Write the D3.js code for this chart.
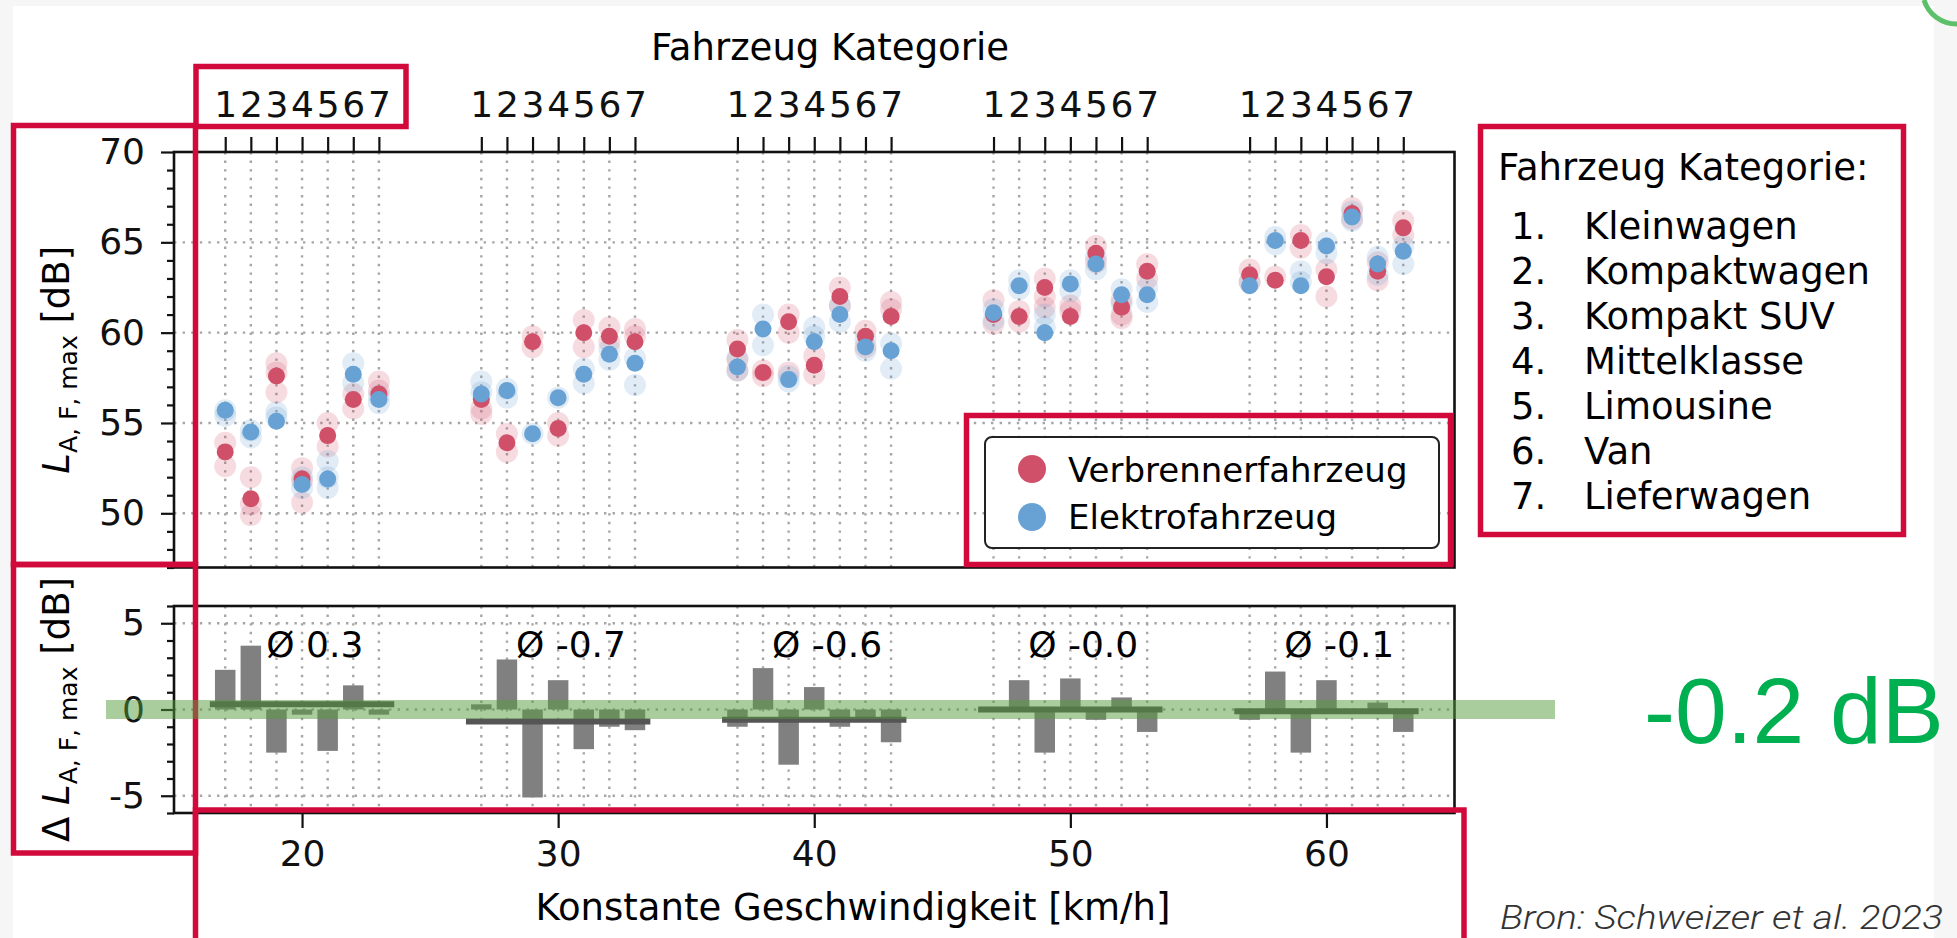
<!DOCTYPE html>
<html>
<head>
<meta charset="utf-8">
<script src="https://cdn.jsdelivr.net/npm/d3@7"></script>
<style>
  body { margin: 0; background: #f6f6f6; }
  svg { display: block; }
</style>
</head>
<body>
<svg id="chart" width="1957" height="938"></svg>
<script>
// speeds (km/h) and vehicle categories
const speeds = [20, 30, 40, 50, 60];
const catNumbers = ["1", "2", "3", "4", "5", "6", "7"];
const catNames = ["Kleinwagen", "Kompaktwagen", "Kompakt SUV", "Mittelklasse", "Limousine", "Van", "Lieferwagen"];

// mean L_AFmax per speed group (rows) and category (columns)
const verbrenner = [
  [53.4, 50.8, 57.6, 51.9, 54.3, 56.3, 56.6],
  [56.3, 53.9, 59.5, 54.7, 60.0, 59.8, 59.5],
  [59.1, 57.8, 60.6, 58.2, 62.0, 59.8, 60.9],
  [61.0, 60.9, 62.5, 60.9, 64.4, 61.4, 63.4],
  [63.2, 62.9, 65.1, 63.1, 66.6, 63.4, 65.8]
];
const elektro = [
  [55.7, 54.5, 55.1, 51.6, 51.9, 57.7, 56.3],
  [56.6, 56.8, 54.4, 56.4, 57.7, 58.8, 58.3],
  [58.1, 60.2, 57.4, 59.5, 61.0, 59.2, 59.0],
  [61.1, 62.6, 60.0, 62.7, 63.8, 62.1, 62.1],
  [62.6, 65.1, 62.6, 64.8, 66.4, 63.8, 64.5]
];

// single vehicle measurements (faint markers)
const verbrennerRuns = [
  [[53.9, 52.6], [52.0, 49.9, 50.5], [58.3, 56.7, 57.8], [52.5, 50.6, 51.8], [55.0, 53.7], [55.8, 56.6], [57.3, 56.8]],
  [[55.8, 55.5], [54.4, 53.4], [59.8, 59.2], [55.0, 54.3], [60.7, 59.2], [60.3, 59.5], [60.2, 59.8]],
  [[59.6, 57.9, 58.5], [57.9, 57.6], [61.0, 60.0, 57.8], [57.7, 58.7], [62.5, 61.5], [60.1, 59.2], [61.7, 61.3]],
  [[61.8, 60.5], [61.2, 60.6], [63.0, 62.0, 61.4], [61.2, 61.5], [64.8, 63.9], [61.8, 61.0, 60.8], [63.8, 63.0]],
  [[63.5, 62.8], [63.1], [65.4, 64.7], [63.5, 62.0], [66.9, 66.3], [63.9, 62.9], [66.2, 65.4]]
];
const elektroRuns = [
  [[55.7, 55.4], [54.6, 54.2], [55.6, 55.3], [51.4, 52.0], [52.9, 51.4, 52.0], [58.3, 57.2], [56.1, 56.5]],
  [[57.3, 56.7], [56.4, 56.9], [54.4], [56.4], [57.2, 58.0], [58.5, 59.1], [57.1, 58.6]],
  [[58.6, 57.9], [61.0, 59.3], [57.3, 57.6], [59.8, 60.3], [61.5, 60.6], [59.0, 59.6], [58.0, 59.4]],
  [[61.3, 60.7], [62.9, 62.4], [60.3, 61.0], [62.9, 62.3], [64.2, 63.5], [62.4, 61.6], [62.5, 61.7]],
  [[62.8], [65.3, 64.9], [62.8, 63.4], [65.0, 64.4], [66.2, 66.7], [63.2, 64.2], [64.8, 63.8]]
];

// group averages of the difference (Elektro - Verbrenner)
const groupAvg = [0.3, -0.7, -0.6, -0.0, -0.1];
const groupAvgLabels = ["0.3", "-0.7", "-0.6", "-0.0", "-0.1"];
const overallLabel = "-0.2 dB";

const topYTicks = [50, 55, 60, 65, 70];
const bottomYTicks = [-5, 0, 5];
const speedTicks = [20, 30, 40, 50, 60];
const legendLabels = ["Verbrennerfahrzeug", "Elektrofahrzeug"];

const RED = "#d0506a", BLUE = "#68a2d4", BOX = "#d20a3c";
const FONT = "DejaVu Sans, Verdana, sans-serif";

const svg = d3.select("#chart");

// white card on the grey slide
svg.append("rect").attr("x", 13).attr("y", 6).attr("width", 1921).attr("height", 932).attr("fill", "#fff");
svg.append("path").attr("d", "M1924,0 A34,34 0 0 0 1957,24")
  .attr("fill", "none").attr("stroke", "#5cbf6a").attr("stroke-width", 5);

const x = d3.scaleLinear().domain([15, 65]).range([174, 1454.5]);
const yTop = d3.scaleLinear().domain([47, 70]).range([567.5, 152]);
const yBot = d3.scaleLinear().domain([-6, 6]).range([813, 606]);

const catTicks = speeds.flatMap(s => catNumbers.map((n, j) => ({ pos: s + j - 3, label: n })));

function grid(y, ticks) {
  const g = svg.append("g").attr("stroke", "#a6a6a6").attr("stroke-width", 2.4)
    .attr("stroke-dasharray", "2.4,6.2");
  g.selectAll(".v").data(catTicks).enter().append("line")
    .attr("x1", d => x(d.pos)).attr("x2", d => x(d.pos))
    .attr("y1", y.range()[1]).attr("y2", y.range()[0]);
  g.selectAll(".h").data(ticks).enter().append("line")
    .attr("x1", x.range()[0]).attr("x2", x.range()[1])
    .attr("y1", d => y(d)).attr("y2", d => y(d));
}
grid(yTop, topYTicks.filter(d => d < 70));
grid(yBot, bottomYTicks);

// ---- top panel: scatter
const points = [];
speeds.forEach((s, i) => catNumbers.forEach((n, j) => {
  verbrennerRuns[i][j].forEach(v => points.push({ x: s + j - 3, y: v, c: RED, faint: true }));
  elektroRuns[i][j].forEach(v => points.push({ x: s + j - 3, y: v, c: BLUE, faint: true }));
}));
speeds.forEach((s, i) => catNumbers.forEach((n, j) =>
  points.push({ x: s + j - 3, y: verbrenner[i][j], c: RED, faint: false })));
speeds.forEach((s, i) => catNumbers.forEach((n, j) =>
  points.push({ x: s + j - 3, y: elektro[i][j], c: BLUE, faint: false })));

svg.append("g").selectAll("circle").data(points).enter().append("circle")
  .attr("cx", d => x(d.x)).attr("cy", d => yTop(d.y))
  .attr("r", d => d.faint ? 11 : 8.5)
  .attr("fill", d => d.c)
  .attr("fill-opacity", d => d.faint ? 0.2 : 1);

// ---- bottom panel: differences
const diffs = [];
speeds.forEach((s, i) => catNumbers.forEach((n, j) =>
  diffs.push({ x: s + j - 3, d: elektro[i][j] - verbrenner[i][j] })));
const bw = x(0.8) - x(0);
svg.append("g").selectAll("rect").data(diffs).enter().append("rect")
  .attr("x", d => x(d.x) - bw / 2).attr("width", bw)
  .attr("y", d => yBot(Math.max(0, d.d)))
  .attr("height", d => Math.abs(yBot(d.d) - yBot(0)))
  .attr("fill", "#808080");

svg.append("g").selectAll("line").data(speeds).enter().append("line")
  .attr("x1", s => x(s - 3.6)).attr("x2", s => x(s + 3.6))
  .attr("y1", (s, i) => yBot(groupAvg[i])).attr("y2", (s, i) => yBot(groupAvg[i]))
  .attr("stroke", "#555").attr("stroke-width", 6);

svg.append("g").selectAll("text").data(speeds).enter().append("text")
  .attr("x", s => x(s + 0.5)).attr("y", 657)
  .attr("text-anchor", "middle").attr("font-family", FONT).attr("font-size", 36)
  .text((s, i) => "Ø " + groupAvgLabels[i]);

// ---- spines & axes
[yTop, yBot].forEach(y => {
  svg.append("rect").attr("x", x.range()[0]).attr("y", y.range()[1])
    .attr("width", x.range()[1] - x.range()[0]).attr("height", y.range()[0] - y.range()[1])
    .attr("fill", "none").attr("stroke", "#111").attr("stroke-width", 2.6);
});

function styleAxis(g, size) {
  g.select(".domain").remove();
  g.selectAll(".tick line").attr("stroke", "#111").attr("stroke-width", 2.2);
  g.selectAll(".tick text").attr("font-family", FONT).attr("font-size", size).attr("fill", "#111");
}

const minorTop = d3.range(47, 71).filter(v => v % 5 !== 0);
svg.append("g").attr("transform", `translate(${x.range()[0]},0)`)
  .call(d3.axisLeft(yTop).tickValues(minorTop).tickSize(7).tickFormat(""))
  .call(g => styleAxis(g, 36));
svg.append("g").attr("transform", `translate(${x.range()[0]},0)`)
  .call(d3.axisLeft(yTop).tickValues(topYTicks).tickSize(13).tickPadding(16).tickFormat(d => String(d)))
  .call(g => styleAxis(g, 36));

const minorBot = d3.range(-6, 7).filter(v => v % 5 !== 0);
svg.append("g").attr("transform", `translate(${x.range()[0]},0)`)
  .call(d3.axisLeft(yBot).tickValues(minorBot).tickSize(7).tickFormat(""))
  .call(g => styleAxis(g, 36));
svg.append("g").attr("transform", `translate(${x.range()[0]},0)`)
  .call(d3.axisLeft(yBot).tickValues(bottomYTicks).tickSize(13).tickPadding(16).tickFormat(d => String(d)))
  .call(g => styleAxis(g, 36));

svg.append("g").attr("transform", `translate(0,${yTop.range()[1]})`)
  .call(d3.axisTop(x).tickValues(catTicks.map(t => t.pos)).tickSize(15).tickPadding(20)
    .tickFormat((d, i) => catTicks[i].label))
  .call(g => styleAxis(g, 36));

svg.append("g").attr("transform", `translate(0,${yBot.range()[0]})`)
  .call(d3.axisBottom(x).tickValues(speedTicks).tickSize(15).tickPadding(12).tickFormat(d => String(d)))
  .call(g => styleAxis(g, 36));

// axis titles
svg.append("text").attr("x", 830).attr("y", 60).attr("text-anchor", "middle")
  .attr("font-family", FONT).attr("font-size", 37).text("Fahrzeug Kategorie");
svg.append("text").attr("x", 853).attr("y", 920).attr("text-anchor", "middle")
  .attr("font-family", FONT).attr("font-size", 37).text("Konstante Geschwindigkeit [km/h]");

function yLabel(cy, prefix) {
  const t = svg.append("text").attr("transform", `translate(69,${cy}) rotate(-90)`)
    .attr("text-anchor", "middle").attr("font-family", FONT).attr("font-size", 37);
  if (prefix) t.append("tspan").text(prefix);
  t.append("tspan").attr("font-style", "italic").text("L");
  t.append("tspan").attr("font-size", 25).attr("dy", 8).text("A, F, max");
  t.append("tspan").attr("dy", -8).text(" [dB]");
}
yLabel((yTop.range()[0] + yTop.range()[1]) / 2, null);
yLabel((yBot.range()[0] + yBot.range()[1]) / 2, "Δ ");

// legend
const lg = svg.append("g");
lg.append("rect").attr("x", 985).attr("y", 437).attr("width", 454).attr("height", 111).attr("rx", 7)
  .attr("fill", "#fff").attr("stroke", "#222").attr("stroke-width", 2);
lg.selectAll("circle").data(legendLabels).enter().append("circle")
  .attr("cx", 1032).attr("cy", (d, i) => 469 + i * 48).attr("r", 14)
  .attr("fill", (d, i) => i ? BLUE : RED);
lg.selectAll("text").data(legendLabels).enter().append("text")
  .attr("x", 1068).attr("y", (d, i) => 482 + i * 47)
  .attr("font-family", FONT).attr("font-size", 34).text(d => d);

// category list
svg.append("text").attr("x", 1498).attr("y", 180).attr("font-family", FONT).attr("font-size", 37)
  .text("Fahrzeug Kategorie:");
const cl = svg.append("g").attr("font-family", FONT).attr("font-size", 37);
cl.selectAll(".n").data(catNames).enter().append("text")
  .attr("x", 1511).attr("y", (d, i) => 239 + i * 45).text((d, i) => catNumbers[i] + ".");
cl.selectAll(".t").data(catNames).enter().append("text")
  .attr("x", 1584).attr("y", (d, i) => 239 + i * 45).text(d => d);

// highlight boxes
const boxes = [
  [196, 66.5, 406, 126.5],
  [13.5, 125.5, 195.5, 564.5],
  [13.5, 564.5, 195.5, 853],
  [195.5, 810, 1464, 950],
  [966.5, 415.5, 1450.5, 564.5],
  [1480.5, 126.5, 1903.5, 534.5]
];
svg.append("g").selectAll("rect").data(boxes).enter().append("rect")
  .attr("x", d => d[0]).attr("y", d => d[1]).attr("width", d => d[2] - d[0]).attr("height", d => d[3] - d[1])
  .attr("fill", "none").attr("stroke", BOX).attr("stroke-width", 5.5);

// overall mean band
svg.append("rect").attr("x", 106).attr("width", 1555 - 106)
  .attr("y", yBot(0.55)).attr("height", yBot(-0.55) - yBot(0.55))
  .attr("fill", "rgb(85,156,62)").attr("fill-opacity", 0.5);
svg.append("text").attr("x", 1644).attr("y", 743)
  .attr("font-family", "Liberation Sans, Arial, sans-serif").attr("font-size", 93)
  .attr("fill", "#00b050").text(overallLabel);

svg.append("text").attr("x", 1500).attr("y", 929)
  .attr("font-family", "Roboto, sans-serif").attr("font-weight", 300).attr("font-style", "italic")
  .attr("font-size", 34).attr("fill", "#333").attr("textLength", 443).attr("lengthAdjust", "spacingAndGlyphs")
  .text("Bron: Schweizer et al. 2023");
</script>
</body>
</html>
